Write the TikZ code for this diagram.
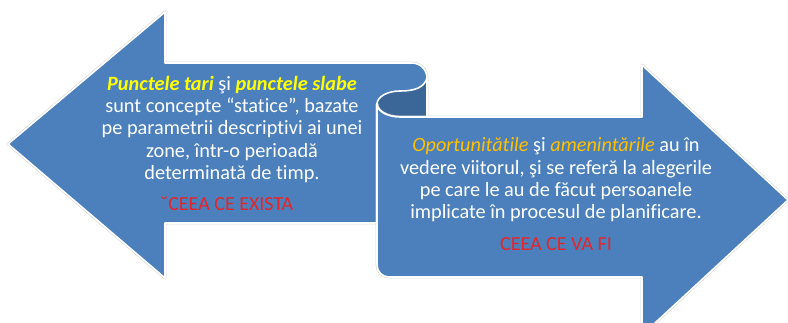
\documentclass[tikz,border=0pt]{standalone}
\usepackage{fontspec}
\setmainfont{Carlito}[Ligatures=NoCommon]
\definecolor{ribbon}{HTML}{4B80BD}
\definecolor{ribbondark}{HTML}{3B6798}
\definecolor{hiyellow}{HTML}{FFFF00}
\definecolor{hiorange}{HTML}{FFC000}
\definecolor{redtxt}{HTML}{E3262A}
\tikzset{
  shapefill/.style={fill=ribbon},
  edgeline/.style={draw=white, line width=1.6pt, line join=round},
  shadowline/.style={draw=black!15, line width=2.8pt, line join=round},
  bodytext/.style={text=white, align=center, font=\fontsize{20.3}{22.3}\selectfont, inner sep=0pt},
  redlabel/.style={text=redtxt, font=\fontsize{20}{22}\selectfont, inner sep=0pt}
}
\begin{document}
\begin{tikzpicture}[x=1pt,y=-1pt]
\useasboundingbox (0,0) rectangle (788,322);
\fill[white] (0,0) rectangle (788,322);
% left arrow
\def\leftarrowpath{(8,144) -- (165,12) -- (165,63) -- (412,63) arc[start angle=270,end angle=360,radius=15] -- (427,223) -- (165,223) -- (165,278) -- cycle}
\path[shadowline] \leftarrowpath;
\path[shapefill, edgeline] \leftarrowpath;
% dark back of the curl
\path[fill=ribbondark] (427,80) -- (427,117) -- (400,117)
  arc[start angle=90,end angle=180,x radius=23,y radius=13]
  arc[start angle=180,end angle=270,x radius=23,y radius=13]
  .. controls (414,91) and (424,88) .. (427,78) -- cycle;
\draw[edgeline] (427,78) -- (427,117);
% right arrow
\def\rightarrowpath{(377,104) arc[start angle=180,end angle=90,x radius=23,y radius=13] -- (642,117) -- (642,65) -- (788,200) -- (642,335) -- (642,277) -- (389,277) arc[start angle=90,end angle=180,radius=12] -- cycle}
\path[shadowline] \rightarrowpath;
\path[shapefill, edgeline] \rightarrowpath;
% upper curl outline
\draw[edgeline] (377,104) arc[start angle=180,end angle=270,x radius=23,y radius=13]
  .. controls (414,91) and (424,88) .. (427,78);
% texts
\node[bodytext] (lefttext) at (232,129.5) {\textcolor{hiyellow}{\textbf{\textit{Punctele tari}}} şi \textcolor{hiyellow}{\textbf{\textit{punctele slabe}}}\\ sunt concepte “statice”, bazate\\ pe parametrii descriptivi ai unei\\ zone, într-o perioadă\\ determinată de timp.};
\node[redlabel] (leftred) at (227,204) {˘CEEA CE EXISTA};
\node[bodytext] (righttext) at (556,180) {\textcolor{hiorange}{\textit{Oportunitătile}} şi \textcolor{hiorange}{\textit{amenintările}} au în\\ vedere viitorul, şi se referă la alegerile\\ pe care le au de făcut persoanele\\ implicate în procesul de planificare.};
\node[redlabel] (rightred) at (556,244) {CEEA CE VA FI};
\end{tikzpicture}
\end{document}
